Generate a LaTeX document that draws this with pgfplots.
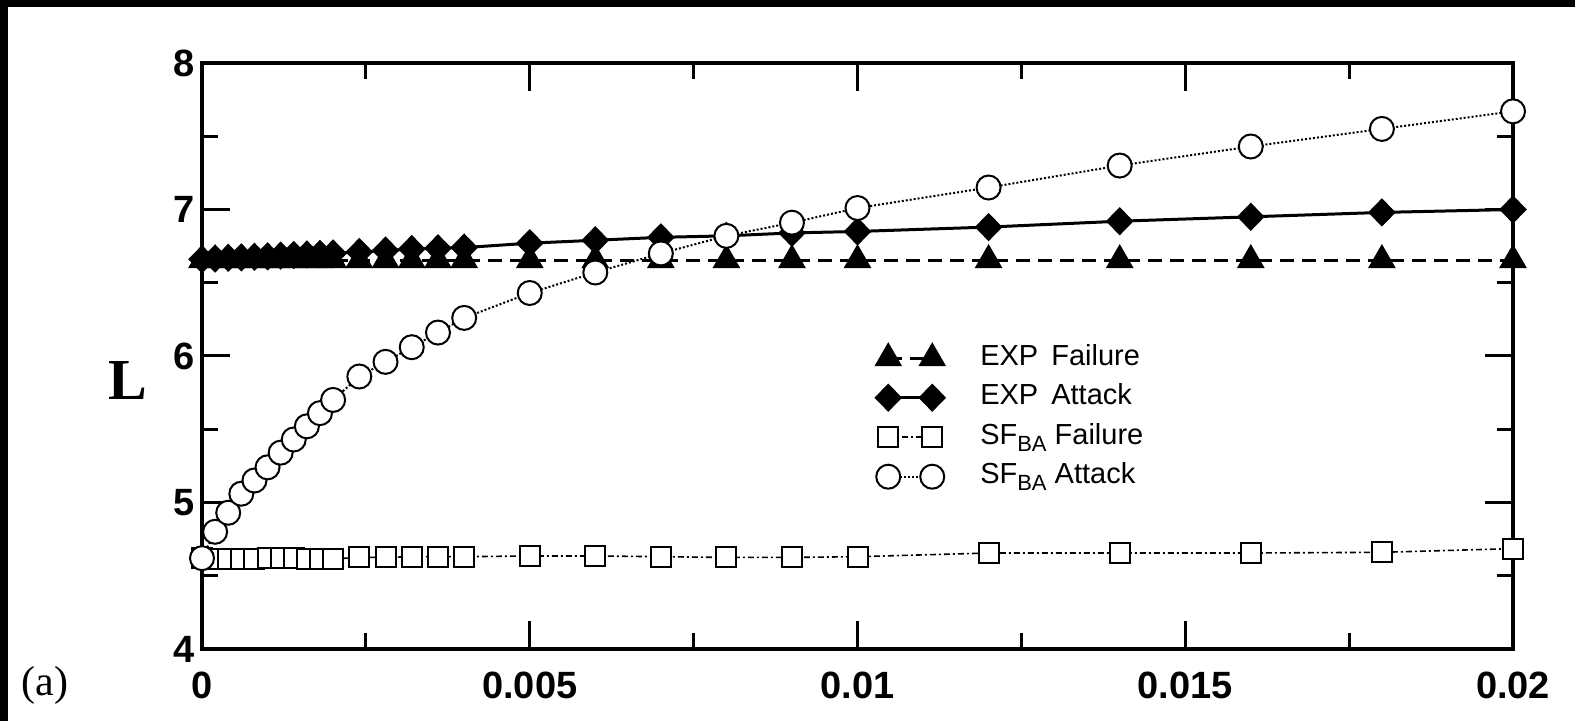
\documentclass[border=0pt]{standalone}
\usepackage{pgfplots}
\pgfplotsset{compat=1.18}
\usepackage{fontspec}
\setmainfont{Liberation Sans}
\newfontfamily\seriffont{Liberation Serif}
\begin{document}
\begin{tikzpicture}
\begin{axis}[
  scale only axis, width=655.5pt, height=293pt,
  xmin=0, xmax=0.02, ymin=4, ymax=8,
  xtick={0,0.005,0.01,0.015,0.02}, xticklabels={0,0.005,0.01,0.015,0.02},
  ytick={4,5,6,7,8}, yticklabels={4,5,6,7,8},
  minor x tick num=1, minor y tick num=1,
  tick align=inside,
  major tick length=14pt, minor tick length=8pt,
  every tick/.style={black, line width=1.5pt},
  axis line style={line width=2pt},
  tick label style={font=\fontsize{19}{19}\selectfont\bfseries},
  xticklabel style={yshift=-8pt},
  scaled x ticks=false,
  clip=false,
  ylabel={\seriffont\bfseries L},
  ylabel style={rotate=-90, at={(axis description cs:-0.0564,0.459)}, anchor=center, font=\fontsize{29}{29}\selectfont},
  legend style={draw=none, fill=none, inner sep=0pt, at={(axis cs:0.01028,6.09)}, anchor=north west,
    font=\fontsize{14.5}{14.5}\selectfont, row sep=4.75pt,
    nodes={inner sep=0pt, text height=11pt, text depth=4pt},
    /tikz/every odd column/.append style={column sep=18pt}},
  legend cell align=left,
  legend image code/.code={\draw[#1] plot coordinates {(0pt,0pt) (22pt,0pt)};},
]
\addplot[black, line width=1.5pt, dash pattern=on 7pt off 4pt, mark=triangle*, mark size=6.5pt, mark options={solid}]
coordinates {
(0,6.655) (0.0002,6.655) (0.0004,6.655) (0.0006,6.655) (0.0008,6.655) (0.001,6.655)
(0.0012,6.655) (0.0014,6.655) (0.0016,6.655) (0.0018,6.655) (0.002,6.655)
(0.0024,6.655) (0.0028,6.655) (0.0032,6.655) (0.0036,6.655) (0.004,6.655)
(0.005,6.655) (0.006,6.655) (0.007,6.655) (0.008,6.655) (0.009,6.655) (0.01,6.655)
(0.012,6.655) (0.014,6.655) (0.016,6.655) (0.018,6.655) (0.02,6.655)};
\addlegendentry{EXP\hspace{0.45em}Failure}
\addplot[black, line width=1.5pt, mark=diamond*, mark size=6pt, mark options={solid, xscale=1.3}]
coordinates {
(0,6.66) (0.0002,6.665) (0.0004,6.67) (0.0006,6.673) (0.0008,6.677) (0.001,6.68)
(0.0012,6.685) (0.0014,6.69) (0.0016,6.693) (0.0018,6.697) (0.002,6.70)
(0.0024,6.71) (0.0028,6.72) (0.0032,6.73) (0.0036,6.735) (0.004,6.74)
(0.005,6.77) (0.006,6.79) (0.007,6.81) (0.008,6.82) (0.009,6.84) (0.01,6.85)
(0.012,6.88) (0.014,6.92) (0.016,6.95) (0.018,6.98) (0.02,7.00)};
\addlegendentry{EXP\hspace{0.45em}Attack}
\addplot[black, line width=0.8pt, dash pattern=on 3pt off 1.5pt on 1pt off 1.5pt, mark=square*, mark size=5pt, mark options={solid, fill=white, line width=1pt}]
coordinates {
(0,4.62) (0.0002,4.615) (0.0004,4.615) (0.0006,4.615) (0.0008,4.615) (0.001,4.62)
(0.0012,4.62) (0.0014,4.62) (0.0016,4.615) (0.0018,4.615) (0.002,4.615)
(0.0024,4.625) (0.0028,4.625) (0.0032,4.63) (0.0036,4.63) (0.004,4.63)
(0.005,4.635) (0.006,4.635) (0.007,4.63) (0.008,4.625) (0.009,4.625) (0.01,4.63)
(0.012,4.655) (0.014,4.655) (0.016,4.655) (0.018,4.66) (0.02,4.685)};
\addlegendentry{SF\raisebox{-0.45ex}{\fontsize{11}{11}\selectfont BA} Failure}
\addplot[black, line width=1pt, densely dotted, mark=*, mark size=6pt, mark options={solid, fill=white, line width=1pt}]
coordinates {
(0,4.62) (0.0002,4.80) (0.0004,4.93) (0.0006,5.06) (0.0008,5.15) (0.001,5.24)
(0.0012,5.34) (0.0014,5.43) (0.0016,5.52) (0.0018,5.61) (0.002,5.70)
(0.0024,5.86) (0.0028,5.96) (0.0032,6.06) (0.0036,6.16) (0.004,6.26)
(0.005,6.43) (0.006,6.57) (0.007,6.70) (0.008,6.82) (0.009,6.91) (0.01,7.01)
(0.012,7.15) (0.014,7.30) (0.016,7.43) (0.018,7.55) (0.02,7.67)};
\addlegendentry{SF\raisebox{-0.45ex}{\fontsize{11}{11}\selectfont BA} Attack}
\node[font=\seriffont\fontsize{21}{21}\selectfont] at (axis description cs:-0.1198,-0.0614) {(a)};
\end{axis}
\pgfresetboundingbox
\path[use as bounding box] (-101pt,-36pt) rectangle (686.5pt,324.5pt);
\fill[black] (-101pt,321pt) rectangle (686.5pt,324.5pt);
\fill[black] (-101pt,-36pt) rectangle (-97pt,324.5pt);
\end{tikzpicture}
\end{document}
